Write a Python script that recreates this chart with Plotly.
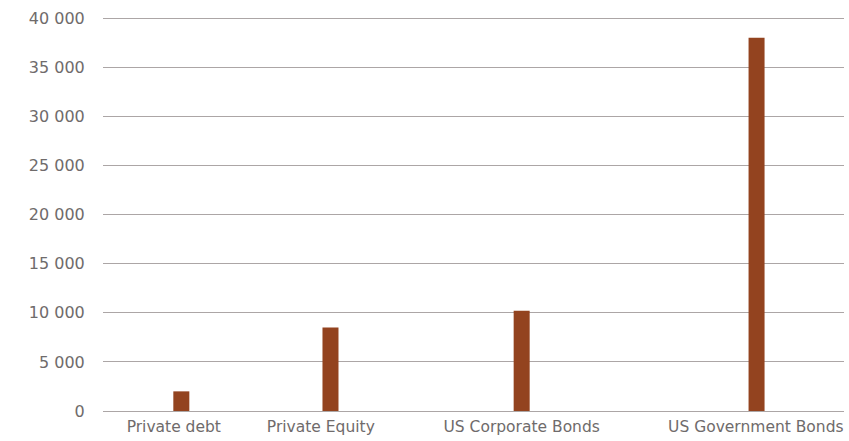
import plotly.graph_objects as go

# Asset classes and their sizes
categories = ["Private debt", "Private Equity", "US Corporate Bonds", "US Government Bonds"]
values = [2000, 8500, 10200, 38000]
y_ticks = [0, 5000, 10000, 15000, 20000, 25000, 30000, 35000, 40000]
y_tick_text = ["0", "5 000", "10 000", "15 000", "20 000", "25 000", "30 000", "35 000", "40 000"]

# Layout: horizontal slot for each category on a 0-1 axis
bar_slots = [0.1057, 0.307, 0.565, 0.882]
label_slots = [0.0955, 0.294, 0.565, 0.881]

BAR_COLOR = "#93431f"
TEXT_COLOR = "#6f6b6b"
GRID_COLOR = "#aca6a6"
FONT = "DejaVu Sans"

fig = go.Figure(
    go.Bar(
        x=bar_slots,
        y=values,
        width=0.0216,
        marker=dict(color=BAR_COLOR, line=dict(width=0)),
        hovertext=categories,
    )
)

fig.update_layout(
    width=849,
    height=441,
    margin=dict(l=103, r=5, t=17, b=30),
    paper_bgcolor="white",
    plot_bgcolor="white",
    showlegend=False,
    font=dict(family=FONT, size=15, color=TEXT_COLOR),
    xaxis=dict(
        range=[0, 1],
        automargin=False,
        tickmode="array",
        tickvals=label_slots,
        ticktext=categories,
        showgrid=False,
        zeroline=False,
        showline=False,
        ticks="outside",
        ticklen=1,
        tickcolor="rgba(0,0,0,0)",
        tickfont=dict(family=FONT, size=15.5, color=TEXT_COLOR),
    ),
    yaxis=dict(
        range=[0, 40120],
        automargin=False,
        tickmode="array",
        tickvals=y_ticks,
        ticktext=y_tick_text,
        showgrid=True,
        gridcolor=GRID_COLOR,
        gridwidth=1,
        zeroline=True,
        zerolinecolor=GRID_COLOR,
        zerolinewidth=1,
        showline=False,
        ticks="outside",
        ticklen=14,
        tickcolor="rgba(0,0,0,0)",
        tickfont=dict(family=FONT, size=16, color=TEXT_COLOR),
    ),
)

fig.write_html("out.html")
